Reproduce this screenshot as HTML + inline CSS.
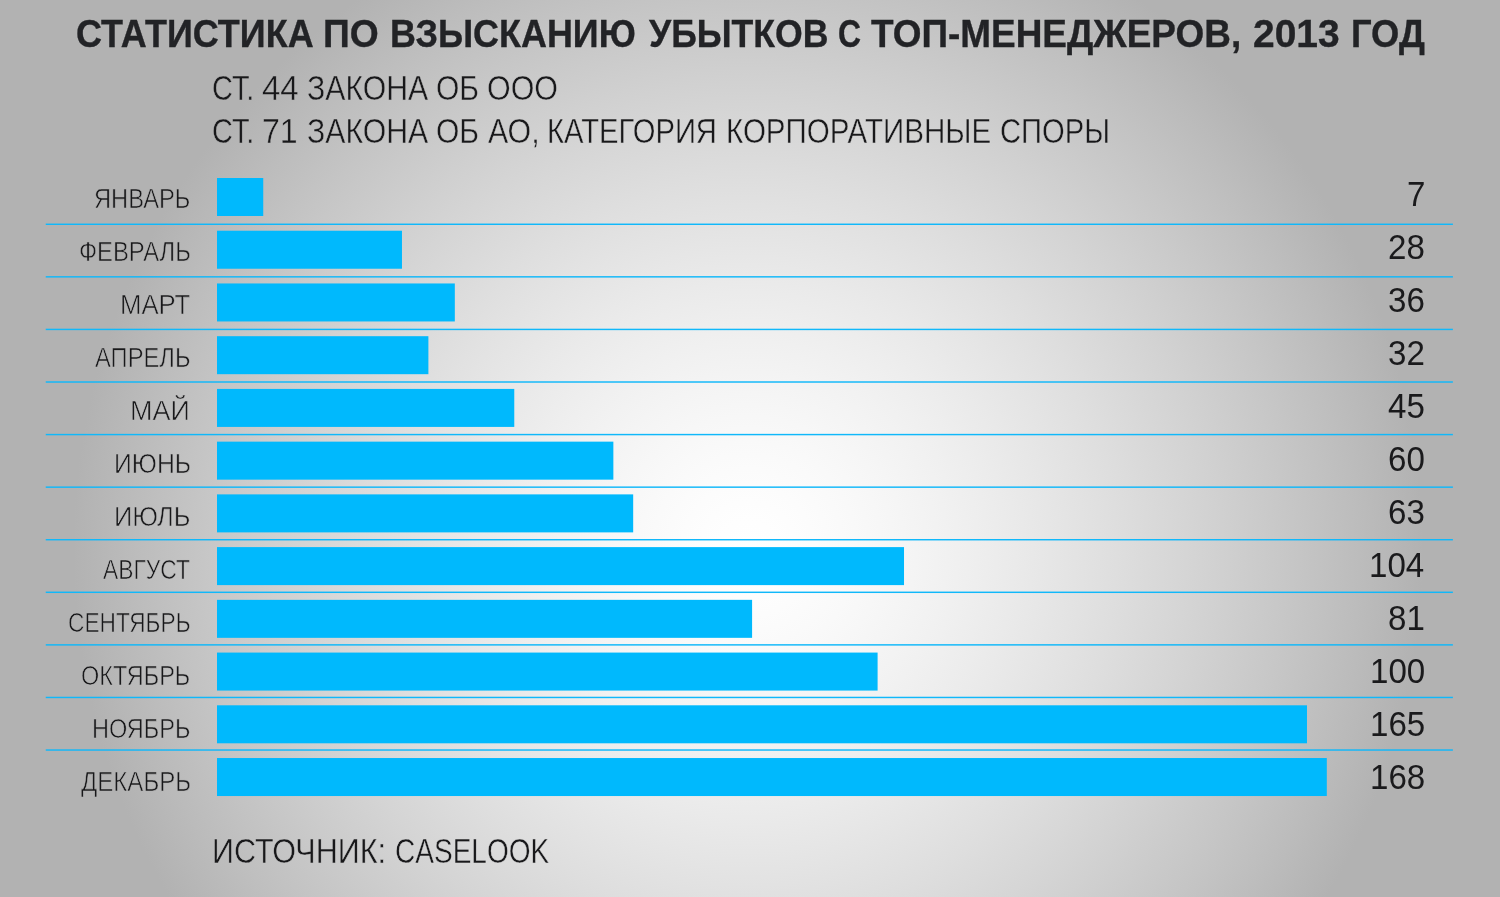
<!DOCTYPE html>
<html lang="ru"><head><meta charset="utf-8"><title>Статистика по взысканию убытков с топ-менеджеров, 2013 год</title>
<style>
html,body{margin:0;padding:0}
body{width:1500px;height:897px;overflow:hidden;position:relative;background:rgb(178,178,178);font-family:"Liberation Sans",sans-serif;color:#18181a}
#bg{position:absolute;left:0;top:0;width:1500px;height:897px;background:radial-gradient(circle 675px at 748px 550px, rgb(255.0,255.0,255.0) 0.0%, rgb(253.8,253.8,253.8) 5.0%, rgb(251.9,251.9,251.9) 10.0%, rgb(249.6,249.6,249.6) 15.0%, rgb(246.9,246.9,246.9) 20.0%, rgb(243.9,243.9,243.9) 25.0%, rgb(240.7,240.7,240.7) 30.0%, rgb(237.3,237.3,237.3) 35.0%, rgb(233.7,233.7,233.7) 40.0%, rgb(229.8,229.8,229.8) 45.0%, rgb(225.8,225.8,225.8) 50.0%, rgb(221.7,221.7,221.7) 55.0%, rgb(217.3,217.3,217.3) 60.0%, rgb(212.9,212.9,212.9) 65.0%, rgb(208.3,208.3,208.3) 70.0%, rgb(203.5,203.5,203.5) 75.0%, rgb(198.7,198.7,198.7) 80.0%, rgb(193.7,193.7,193.7) 85.0%, rgb(188.6,188.6,188.6) 90.0%, rgb(183.3,183.3,183.3) 95.0%, rgb(178.0,178.0,178.0) 100.0%)}
#chart{position:absolute;left:0;top:0}
h1,p,ul,li{margin:0;padding:0;font:inherit;list-style:none}
.t{position:absolute;display:block;white-space:nowrap;line-height:1;margin:0;padding:0;transform-origin:0 0;font-weight:normal}
h1 .t{font-weight:bold;color:#222326}
.v{color:#1a1a1c}
</style></head><body>
<div id="bg"></div>
<svg id="chart" width="1500" height="897" viewBox="0 0 1500 897" aria-hidden="true"><g fill="#10b8fa"><rect x="45.75" y="223.55" width="1407.15" height="1.45"/><rect x="45.75" y="276.12" width="1407.15" height="1.45"/><rect x="45.75" y="328.70" width="1407.15" height="1.45"/><rect x="45.75" y="381.28" width="1407.15" height="1.45"/><rect x="45.75" y="433.85" width="1407.15" height="1.45"/><rect x="45.75" y="486.43" width="1407.15" height="1.45"/><rect x="45.75" y="539.00" width="1407.15" height="1.45"/><rect x="45.75" y="591.58" width="1407.15" height="1.45"/><rect x="45.75" y="644.15" width="1407.15" height="1.45"/><rect x="45.75" y="696.73" width="1407.15" height="1.45"/><rect x="45.75" y="749.30" width="1407.15" height="1.45"/></g><g fill="#00b9fd"><rect x="217" y="178.00" width="46.24" height="38.0"/><rect x="217" y="230.73" width="184.97" height="38.0"/><rect x="217" y="283.46" width="237.82" height="38.0"/><rect x="217" y="336.19" width="211.39" height="38.0"/><rect x="217" y="388.92" width="297.27" height="38.0"/><rect x="217" y="441.65" width="396.36" height="38.0"/><rect x="217" y="494.38" width="416.18" height="38.0"/><rect x="217" y="547.11" width="687.02" height="38.0"/><rect x="217" y="599.84" width="535.09" height="38.0"/><rect x="217" y="652.57" width="660.60" height="38.0"/><rect x="217" y="705.30" width="1089.99" height="38.0"/><rect x="217" y="758.03" width="1109.81" height="38.0"/></g></svg>
<h1><span class="t" style="font-size:38.53px;left:75.58px;top:14.75px;transform:scaleX(0.9338);-webkit-text-stroke:0.35px #222326">СТАТИСТИКА</span> <span class="t" style="font-size:38.53px;left:323.32px;top:14.75px;transform:scaleX(0.9667);-webkit-text-stroke:0.35px #222326">ПО</span> <span class="t" style="font-size:38.53px;left:390.2px;top:14.75px;transform:scaleX(0.9324);-webkit-text-stroke:0.35px #222326">ВЗЫСКАНИЮ</span> <span class="t" style="font-size:38.53px;left:648.63px;top:14.75px;transform:scaleX(0.9245);-webkit-text-stroke:0.35px #222326">УБЫТКОВ</span> <span class="t" style="font-size:38.53px;left:838.47px;top:14.75px;transform:scaleX(0.8272);-webkit-text-stroke:0.35px #222326">С</span> <span class="t" style="font-size:38.53px;left:871.06px;top:14.75px;transform:scaleX(0.9593);-webkit-text-stroke:0.35px #222326">ТОП-МЕНЕДЖЕРОВ,</span> <span class="t" style="font-size:38.53px;left:1253.49px;top:14.75px;transform:scaleX(1.012);-webkit-text-stroke:0.35px #222326">2013</span> <span class="t" style="font-size:38.53px;left:1351.28px;top:14.75px;transform:scaleX(0.943);-webkit-text-stroke:0.35px #222326">ГОД</span></h1>
<p><span class="t" style="font-size:34.17px;left:211.81px;top:70.81px;transform:scaleX(0.8447);-webkit-text-stroke:0.45px rgb(178,178,178)">СТ.</span> <span class="t" style="font-size:34.17px;left:261.53px;top:70.81px;transform:scaleX(0.965);-webkit-text-stroke:0.45px rgb(181,181,181)">44</span> <span class="t" style="font-size:34.17px;left:306.67px;top:70.81px;transform:scaleX(0.8852);-webkit-text-stroke:0.45px rgb(190,190,190)">ЗАКОНА</span> <span class="t" style="font-size:34.17px;left:436.46px;top:70.81px;transform:scaleX(0.8796);-webkit-text-stroke:0.45px rgb(198,198,198)">ОБ</span> <span class="t" style="font-size:34.17px;left:487.19px;top:70.81px;transform:scaleX(0.8911);-webkit-text-stroke:0.45px rgb(202,202,202)">ООО</span></p>
<p><span class="t" style="font-size:34.17px;left:211.81px;top:114.06px;transform:scaleX(0.8447);-webkit-text-stroke:0.45px rgb(180,180,180)">СТ.</span> <span class="t" style="font-size:34.17px;left:262.12px;top:114.06px;transform:scaleX(0.9401);-webkit-text-stroke:0.45px rgb(185,185,185)">71</span> <span class="t" style="font-size:34.17px;left:306.67px;top:114.06px;transform:scaleX(0.8852);-webkit-text-stroke:0.45px rgb(195,195,195)">ЗАКОНА</span> <span class="t" style="font-size:34.17px;left:436.46px;top:114.06px;transform:scaleX(0.8796);-webkit-text-stroke:0.45px rgb(203,203,203)">ОБ</span> <span class="t" style="font-size:34.17px;left:487.76px;top:114.06px;transform:scaleX(0.8886);-webkit-text-stroke:0.45px rgb(207,207,207)">АО,</span> <span class="t" style="font-size:34.17px;left:547.44px;top:114.06px;transform:scaleX(0.8549);-webkit-text-stroke:0.45px rgb(213,213,213)">КАТЕГОРИЯ</span> <span class="t" style="font-size:34.17px;left:726.4px;top:114.06px;transform:scaleX(0.8653);-webkit-text-stroke:0.45px rgb(214,214,214)">КОРПОРАТИВНЫЕ</span> <span class="t" style="font-size:34.17px;left:1000.19px;top:114.06px;transform:scaleX(0.8548);-webkit-text-stroke:0.45px rgb(202,202,202)">СПОРЫ</span></p>
<ul>
<li><span class="t m" style="font-size:26.91px;left:94.34px;top:185.61px;transform:scaleX(0.8804);-webkit-text-stroke:0.6px rgb(178,178,178)">ЯНВАРЬ</span> <span class="t v" style="font-size:34.38px;left:1406.75px;top:176.7px;transform:scaleX(0.9626)">7</span></li>
<li><span class="t m" style="font-size:26.91px;left:78.85px;top:238.68px;transform:scaleX(0.8846);-webkit-text-stroke:0.6px rgb(178,178,178)">ФЕВРАЛЬ</span> <span class="t v" style="font-size:34.38px;left:1388.22px;top:229.77px;transform:scaleX(0.9626)">28</span></li>
<li><span class="t m" style="font-size:26.91px;left:120.21px;top:291.75px;transform:scaleX(0.9566);-webkit-text-stroke:0.6px rgb(183,183,183)">МАРТ</span> <span class="t v" style="font-size:34.38px;left:1388.22px;top:282.84px;transform:scaleX(0.9626)">36</span></li>
<li><span class="t m" style="font-size:26.91px;left:95.16px;top:344.82px;transform:scaleX(0.883);-webkit-text-stroke:0.6px rgb(184,184,184)">АПРЕЛЬ</span> <span class="t v" style="font-size:34.38px;left:1388.46px;top:335.91px;transform:scaleX(0.9626)">32</span></li>
<li><span class="t m" style="font-size:26.91px;left:130.29px;top:397.89px;transform:scaleX(1.0027);-webkit-text-stroke:0.6px rgb(189,189,189)">МАЙ</span> <span class="t v" style="font-size:34.38px;left:1388.22px;top:388.98px;transform:scaleX(0.9626)">45</span></li>
<li><span class="t m" style="font-size:26.91px;left:113.59px;top:450.96px;transform:scaleX(0.922);-webkit-text-stroke:0.6px rgb(189,189,189)">ИЮНЬ</span> <span class="t v" style="font-size:34.38px;left:1387.98px;top:442.05px;transform:scaleX(0.9626)">60</span></li>
<li><span class="t m" style="font-size:26.91px;left:114.33px;top:504.03px;transform:scaleX(0.9477);-webkit-text-stroke:0.6px rgb(190,190,190)">ИЮЛЬ</span> <span class="t v" style="font-size:34.38px;left:1388.22px;top:495.12px;transform:scaleX(0.9626)">63</span></li>
<li><span class="t m" style="font-size:26.91px;left:103.38px;top:557.1px;transform:scaleX(0.8474);-webkit-text-stroke:0.6px rgb(189,189,189)">АВГУСТ</span> <span class="t v" style="font-size:34.38px;left:1369.21px;top:548.19px;transform:scaleX(0.9626)">104</span></li>
<li><span class="t m" style="font-size:26.91px;left:68.04px;top:610.17px;transform:scaleX(0.8429);-webkit-text-stroke:0.6px rgb(186,186,186)">СЕНТЯБРЬ</span> <span class="t v" style="font-size:34.38px;left:1388.22px;top:601.26px;transform:scaleX(0.9626)">81</span></li>
<li><span class="t m" style="font-size:26.91px;left:81.39px;top:663.24px;transform:scaleX(0.873);-webkit-text-stroke:0.6px rgb(186,186,186)">ОКТЯБРЬ</span> <span class="t v" style="font-size:34.38px;left:1369.69px;top:654.33px;transform:scaleX(0.9626)">100</span></li>
<li><span class="t m" style="font-size:26.91px;left:92.21px;top:716.31px;transform:scaleX(0.8758);-webkit-text-stroke:0.6px rgb(185,185,185)">НОЯБРЬ</span> <span class="t v" style="font-size:34.38px;left:1369.69px;top:707.4px;transform:scaleX(0.9626)">165</span></li>
<li><span class="t m" style="font-size:26.91px;left:80.55px;top:769.38px;transform:scaleX(0.8942);-webkit-text-stroke:0.6px rgb(181,181,181)">ДЕКАБРЬ</span> <span class="t v" style="font-size:34.38px;left:1369.69px;top:760.47px;transform:scaleX(0.9626)">168</span></li>
</ul>
<p><span class="t" style="font-size:34.17px;left:212.02px;top:834.41px;transform:scaleX(0.8938);-webkit-text-stroke:0.45px rgb(198,198,198)">ИСТОЧНИК:</span> <span class="t" style="font-size:34.17px;left:395.06px;top:834.41px;transform:scaleX(0.8206);-webkit-text-stroke:0.45px rgb(217,217,217)">CASELOOK</span></p>
</body></html>
